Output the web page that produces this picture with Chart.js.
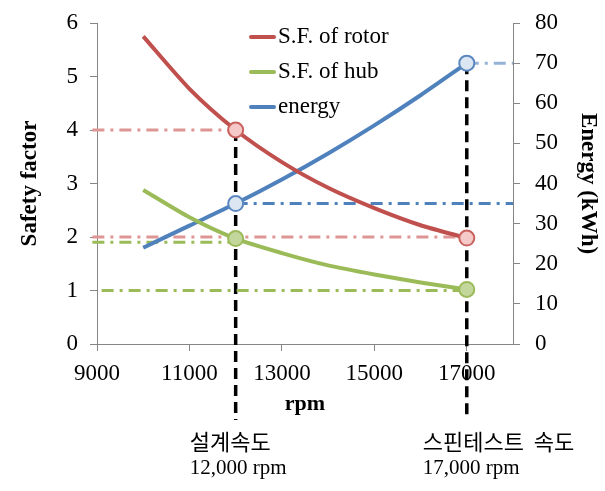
<!DOCTYPE html>
<html>
<head>
<meta charset="utf-8">
<script src="https://cdn.jsdelivr.net/npm/chart.js@4.4.1/dist/chart.umd.min.js"></script>
<style>
  html, body { margin: 0; padding: 0; background: #fff; }
</style>
</head>
<body>
<canvas id="chart" width="605" height="491"></canvas>
<script>
// data
const rpm = [10000, 11000, 12000, 13000, 14000, 15000, 16000, 17000]
const rotorSF = [5.75, 4.77, 4.0, 3.40, 2.92, 2.54, 2.22, 1.98]
const hubSF = [2.88, 2.37, 1.97, 1.70, 1.47, 1.30, 1.15, 1.02]
const energy = [24, 29.5, 35, 41, 47.5, 54.5, 62, 70]
const xTicks = [9000, 11000, 13000, 15000, 17000]
const designRpm = 12000
const spinRpm = 17000
// reference levels: [from rpm, to rpm, value]
const rotorRefs = [[8900, 12000, 4.0], [8900, 17000, 2.0]]
const hubRefs = [[8900, 12000, 1.9], [9100, 17000, 1.0]]
const energyRefs = [[12000, 18000, 35], [17000, 18000, 70]]
const dropBottomSF = -1.42
const dropBottomEnergy = -19

const RED = '#C0504D', GREEN = '#9BBB59', BLUE = '#4F81BD'
const SERIF = '"Liberation Serif", "Times New Roman", serif'

const pts = (ys) => rpm.map((x, i) => ({x: x, y: ys[i]}))
const at = (ys, x) => ys[rpm.indexOf(x)]
const refLine = (r, color, axis) => ({
  data: [{x: r[0], y: r[2]}, {x: r[1], y: r[2]}],
  yAxisID: axis, borderColor: color, borderWidth: 3, borderDash: [12, 6, 3, 6],
  pointRadius: 0, clip: false, isRef: true
})
const marker = (ys, axis, fill, stroke) => ({
  data: [{x: designRpm, y: at(ys, designRpm)}, {x: spinRpm, y: at(ys, spinRpm)}],
  yAxisID: axis, showLine: false, pointRadius: 7.5, pointBorderWidth: 2,
  pointBackgroundColor: fill, pointBorderColor: stroke, clip: false, isRef: true
})

const datasets = [
  marker(rotorSF, 'y', '#F4C9C8', '#C9615E'),
  marker(hubSF, 'y', '#C3D69B', '#9BBB59'),
  marker(energy, 'y2', '#DCE6F2', '#5B87C0'),
  {label: 'S.F. of rotor', data: pts(rotorSF), yAxisID: 'y', borderColor: RED, borderWidth: 4, tension: 0.25, pointRadius: 0},
  {label: 'S.F. of hub', data: pts(hubSF), yAxisID: 'y', borderColor: GREEN, borderWidth: 4, tension: 0.25, pointRadius: 0},
  {label: 'energy', data: pts(energy), yAxisID: 'y2', borderColor: BLUE, borderWidth: 4, tension: 0.25, pointRadius: 0},
  refLine(rotorRefs[0], '#DE9694', 'y'),
  refLine(rotorRefs[1], '#DE9694', 'y'),
  refLine(hubRefs[0], GREEN, 'y'),
  refLine(hubRefs[1], GREEN, 'y'),
  refLine(energyRefs[0], BLUE, 'y2'),
  refLine(energyRefs[1], '#95B3D7', 'y2'),
  {data: [{x: designRpm, y: at(rotorSF, designRpm)}, {x: designRpm, y: dropBottomSF}], yAxisID: 'y',
   borderColor: '#000', borderWidth: 3.5, borderDash: [11, 6], pointRadius: 0, clip: false, isRef: true},
  {data: [{x: spinRpm, y: at(energy, spinRpm)}, {x: spinRpm, y: dropBottomEnergy}], yAxisID: 'y2',
   borderColor: '#000', borderWidth: 3.5, borderDash: [11, 6], pointRadius: 0, clip: false, isRef: true}
]

// vertical legend inside the plot
const legendBox = {
  id: 'legendBox',
  afterDraw(chart) {
    const ctx = chart.ctx
    const items = chart.data.datasets.filter(d => !d.isRef)
    ctx.save()
    ctx.font = '23px ' + SERIF
    ctx.textBaseline = 'middle'
    items.forEach((d, i) => {
      const y = 37 + i * 35
      ctx.strokeStyle = d.borderColor
      ctx.lineWidth = 4
      ctx.lineCap = 'round'
      ctx.beginPath()
      ctx.moveTo(251, y)
      ctx.lineTo(274, y)
      ctx.stroke()
      ctx.fillStyle = '#000'
      ctx.fillText(d.label, 278, y)
    })
    ctx.restore()
  }
}

// speed notes under the axis
const speedNotes = {
  id: 'speedNotes',
  afterDraw(chart) {
    const ctx = chart.ctx
    const x = chart.scales.x
    const notes = [[designRpm, '설계속도', '12,000 rpm', -46], [spinRpm, '스핀테스트  속도', '17,000 rpm', -44]]
    ctx.save()
    ctx.fillStyle = '#000'
    ctx.textAlign = 'left'
    ctx.textBaseline = 'middle'
    notes.forEach(n => {
      const px = x.getPixelForValue(n[0]) + n[3]
      ctx.font = '22px "Noto Sans CJK KR", sans-serif'
      ctx.fillText(n[1], px, 442)
      ctx.font = '21px ' + SERIF
      ctx.fillText(n[2], px, 468)
    })
    ctx.restore()
  }
}

const axisGrid = {display: true, drawOnChartArea: false, drawTicks: true, tickLength: 7, color: '#868686'}
const axisBorder = {display: true, color: '#868686', width: 1}
const tickFont = {family: SERIF, size: 23}
const fitY = (w) => s => { s.width = w; s.paddingTop = 0; s.paddingBottom = 0 }

new Chart(document.getElementById('chart'), {
  type: 'line',
  data: {datasets: datasets},
  plugins: [legendBox, speedNotes],
  options: {
    responsive: false,
    animation: false,
    devicePixelRatio: 1,
    events: [],
    layout: {padding: {left: 0, right: 0, top: 23, bottom: 72}},
    plugins: {legend: {display: false}, tooltip: {enabled: false}},
    scales: {
      x: {
        type: 'linear', min: 9000, max: 18000,
        afterBuildTicks: s => { s.ticks = xTicks.map(v => ({value: v})) },
        afterFit: s => { s.height = 75 },
        grid: axisGrid, border: axisBorder,
        ticks: {color: '#000', font: tickFont, padding: 9, maxRotation: 0, autoSkip: false, callback: v => String(v)},
        title: {display: true, text: 'rpm', color: '#000', font: {family: SERIF, size: 22, weight: 'bold'}, padding: {top: 0, bottom: 1}}
      },
      y: {
        position: 'left', min: 0, max: 6,
        afterFit: fitY(97),
        grid: axisGrid, border: axisBorder,
        ticks: {stepSize: 1, color: '#000', font: tickFont, padding: 12},
        title: {display: true, text: 'Safety factor', color: '#000', font: {family: SERIF, size: 23, weight: 'bold'}, padding: {top: 16, bottom: 0}}
      },
      y2: {
        position: 'right', min: 0, max: 80,
        afterFit: fitY(92),
        grid: axisGrid, border: axisBorder,
        ticks: {stepSize: 10, color: '#000', font: tickFont, padding: 15},
        title: {display: true, text: 'Energy (kWh)', color: '#000', font: {family: SERIF, size: 23, weight: 'bold'}, padding: {top: 3, bottom: 0}}
      }
    }
  }
})
</script>
</body>
</html>
